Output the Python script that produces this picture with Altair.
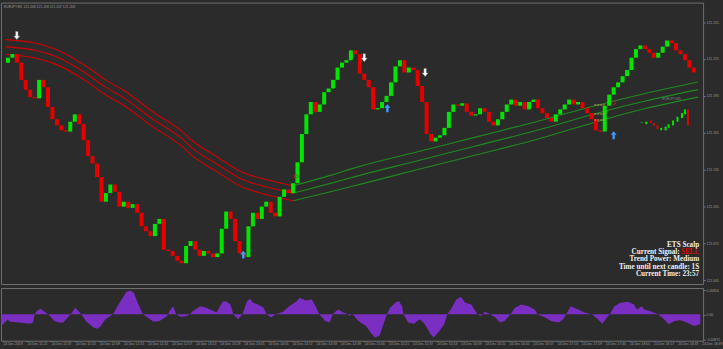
import altair as alt
import pandas as pd

# ---------------- data ----------------
# M1 chart, one candle drawn per 3 minutes, minutes after 11:05
candle_minutes = list(range(0, 465, 3))
first_open = 121.222
closes = [
    121.226, 121.229, 121.222, 121.208, 121.200, 121.194, 121.193, 121.208, 121.202, 121.186,
    121.176, 121.171, 121.167, 121.166, 121.174, 121.180, 121.172, 121.159, 121.146, 121.140,
    121.129, 121.109, 121.116, 121.123, 121.117, 121.105, 121.109, 121.104, 121.107, 121.100,
    121.089, 121.085, 121.081, 121.091, 121.095, 121.070, 121.069, 121.065, 121.061, 121.059,
    121.073, 121.077, 121.070, 121.065, 121.069, 121.067, 121.064, 121.067, 121.087, 121.101,
    121.095, 121.077, 121.067, 121.064, 121.089, 121.100, 121.095, 121.105, 121.109, 121.100,
    121.097, 121.113, 121.119, 121.116, 121.124, 121.141, 121.164, 121.180, 121.190, 121.182,
    121.188, 121.198, 121.201, 121.208, 121.218, 121.222, 121.224, 121.232, 121.229, 121.213,
    121.208, 121.202, 121.184, 121.185, 121.190, 121.195, 121.206, 121.219, 121.224, 121.214,
    121.218, 121.216, 121.203, 121.190, 121.164, 121.158, 121.161, 121.163, 121.169, 121.182,
    121.188, 121.187, 121.189, 121.182, 121.179, 121.180, 121.185, 121.182, 121.174, 121.171,
    121.176, 121.182, 121.188, 121.192, 121.187, 121.190, 121.184, 121.190, 121.192, 121.185,
    121.181, 121.177, 121.174, 121.180, 121.184, 121.188, 121.192, 121.188, 121.190, 121.185,
    121.181, 121.176, 121.167, 121.166, 121.187, 121.196, 121.202, 121.206, 121.211, 121.216,
    121.226, 121.233, 121.236, 121.233, 121.230, 121.226, 121.230, 121.235, 121.240, 121.238,
    121.232, 121.229, 121.224, 121.218, 121.214,
]

# trend bands (minutes, price)
red_minutes = [-1.3, 18.5, 31.7, 51.5, 64.7, 77.9, 97.7, 117.6, 124.2, 140.7, 157.2, 173.7, 192.2]
red_upper = [121.2407, 121.2379, 121.2331, 121.2201, 121.2088, 121.1995, 121.1819, 121.1658,
             121.1585, 121.1456, 121.1334, 121.1270, 121.1219]
red_middle = [121.2348, 121.2320, 121.2272, 121.2142, 121.2029, 121.1936, 121.1760, 121.1599,
              121.1526, 121.1397, 121.1275, 121.1211, 121.1160]
red_lower = [121.2286, 121.2258, 121.2210, 121.2080, 121.1967, 121.1874, 121.1698, 121.1537,
             121.1464, 121.1335, 121.1213, 121.1149, 121.1098]
green_minutes = [192.2, 216.6, 236.4, 276.0, 315.7, 355.3, 394.9, 427.9, 464.9]
green_upper = [121.1219, 121.1302, 121.1375, 121.1496, 121.1617, 121.1738, 121.1868, 121.1965, 121.2062]
green_middle = [121.1159, 121.1237, 121.1302, 121.1423, 121.1545, 121.1666, 121.1803, 121.1904, 121.2001]
green_lower = [121.1098, 121.1169, 121.1229, 121.1351, 121.1472, 121.1593, 121.1734, 121.1843, 121.1940]

# signal arrows
sell_minutes = [6, 240, 281]
sell_prices = [121.244, 121.226, 121.214]
buy_minutes = [158.5, 255.6, 408]
buy_prices = [121.066, 121.185, 121.163]

# small level dashes and target markers
dash_start = [395, 395, 395]
dash_end = [402, 402, 402]
dash_prices = [121.1876, 121.1803, 121.1754]
target_minutes = [194, 408]
target_prices = [121.1295, 121.1895]

# small M5 overlay candles
m5_minutes = [427, 430, 433, 435, 437.5, 440, 443, 445, 448, 451, 454, 456, 458]
m5_open = [121.173, 121.172, 121.175, 121.173, 121.171, 121.167, 121.167, 121.169, 121.171, 121.174, 121.177, 121.180, 121.184]
m5_close = [121.1735, 121.174, 121.173, 121.171, 121.168, 121.169, 121.170, 121.172, 121.175, 121.178, 121.181, 121.184, 121.171]

# oscillator (minutes, value)
osc_minutes = [-1, 1, 3, 5, 12, 18, 20, 21, 23, 25, 27, 30, 32, 34, 37, 40, 43, 45, 48, 52, 55, 60, 63, 65, 68,
               73, 78, 82, 85, 87, 89, 92, 93, 96, 100, 104, 109, 111, 113, 115, 118, 122, 124, 126, 131,
               135, 140, 142, 144, 146, 148, 151, 153, 156, 158, 159, 162, 164, 166, 170, 173, 175, 178,
               181, 186, 190, 195, 197, 201, 205, 207, 210, 214, 217, 219, 221, 223, 225, 229, 230, 232,
               236, 241, 245, 247, 250, 253, 255, 257, 261, 263, 265, 266, 269, 273, 275, 277, 280, 284,
               286, 289, 293, 295, 298, 301, 304, 307, 311, 313, 315, 317, 320, 323, 327, 330, 333, 337,
               340, 344, 349, 353, 355, 360, 364, 369, 372, 374, 377, 382, 386, 391, 395, 398, 401, 403,
               406, 410, 415, 419, 421, 424, 426, 430, 435, 439, 442, 446, 450, 454, 459, 463]
osc_values = [-0.0040, -0.0028, -0.0018, -0.0025, -0.0029, -0.0032, -0.0028, 0.0, 0.0014, 0.0019, 0.0011,
              0.0, -0.0011, -0.0023, -0.0028, -0.0028, -0.0011, 0.0, 0.0023, 0.0, -0.0023, -0.0045,
              -0.0049, -0.0040, -0.0017, 0.0, 0.0045, 0.0077, 0.0081, 0.0073, 0.0045, 0.0011, 0.0,
              -0.0011, -0.0025, -0.0023, -0.0006, 0.0014, 0.0028, 0.0, -0.0009, -0.0006, 0.0, 0.0011,
              0.0028, 0.0023, 0.0011, 0.0006, 0.0028, 0.0043, 0.0045, 0.0034, 0.0, -0.0017, -0.0006,
              0.0, 0.0045, 0.0053, 0.0040, 0.0032, 0.0023, 0.0, -0.0011, 0.0, 0.0009, 0.0028, 0.0045,
              0.0057, 0.0047, 0.0051, 0.0034, 0.0, -0.0023, -0.0028, 0.0, 0.0011, 0.0017, 0.0009, 0.0,
              -0.0006, 0.0002, -0.0023, -0.0040, -0.0068, -0.0079, -0.0073, -0.0028, 0.0, 0.0023,
              0.0042, 0.0045, 0.0028, 0.0, -0.0028, -0.0032, -0.0023, -0.0017, -0.0034, -0.0068,
              -0.0079, -0.0062, -0.0034, 0.0, 0.0023, 0.0051, 0.0059, 0.0040, 0.0034, 0.0017, 0.0,
              -0.0006, 0.0009, 0.0002, -0.0011, -0.0028, -0.0023, 0.0, 0.0023, 0.0034, 0.0028, 0.0017,
              0.0, -0.0011, -0.0023, -0.0028, -0.0017, 0.0, 0.0028, 0.0017, 0.0006, 0.0, -0.0017,
              -0.0032, -0.0011, 0.0, 0.0028, 0.0040, 0.0043, 0.0034, 0.0017, 0.0028, 0.0017, 0.0011,
              0.0, -0.0017, -0.0034, -0.0023, -0.0020, -0.0028, -0.0040, -0.0034]

price_ticks = [121.045, 121.060, 121.075, 121.090, 121.105, 121.120, 121.135, 121.150, 121.165,
               121.180, 121.195, 121.210, 121.225, 121.240, 121.255, 121.270]
osc_ticks = [0.00816, 0.0, -0.00872]
time_tick_minutes = list(range(0, 465, 16))
time_tick_labels = ["24 Dec 2019", "24 Dec 11:21", "24 Dec 11:37", "24 Dec 11:53", "24 Dec 12:09",
                    "24 Dec 12:25", "24 Dec 12:41", "24 Dec 12:57", "24 Dec 13:13", "24 Dec 13:29",
                    "24 Dec 13:45", "24 Dec 14:01", "24 Dec 14:17", "24 Dec 14:33", "24 Dec 14:49",
                    "24 Dec 15:05", "24 Dec 15:21", "24 Dec 15:37", "24 Dec 15:53", "24 Dec 16:09",
                    "24 Dec 16:25", "24 Dec 16:41", "24 Dec 16:57", "24 Dec 17:13", "24 Dec 17:29",
                    "24 Dec 17:45", "24 Dec 18:01", "24 Dec 18:17", "24 Dec 18:33", "24 Dec 18:49"]

# ---------------- frames ----------------
opens = [first_open] + closes[:-1]
candles = pd.DataFrame({"t": candle_minutes, "open": opens, "close": closes})
candles["kind"] = ["up" if c >= o else "down" for o, c in zip(opens, closes)]

bands = []
for name, mins, vals, col in [
    ("ru", red_minutes, red_upper, "band_red"), ("rm", red_minutes, red_middle, "band_red"),
    ("rl", red_minutes, red_lower, "band_red"), ("gu", green_minutes, green_upper, "band_green"),
    ("gm", green_minutes, green_middle, "band_green"), ("gl", green_minutes, green_lower, "band_green")]:
    for m, v in zip(mins, vals):
        bands.append({"t": m, "p": v, "line": name, "kind": col})
bands = pd.DataFrame(bands)

sells = pd.DataFrame({"t": sell_minutes, "p": sell_prices})
buys = pd.DataFrame({"t": buy_minutes, "p": buy_prices})
dashes = pd.DataFrame({"t": dash_start, "t2": dash_end, "p": dash_prices})
targets = pd.DataFrame({"t": target_minutes, "p": target_prices})
m5 = pd.DataFrame({"t": m5_minutes, "open": m5_open, "close": m5_close})
m5["kind"] = ["up" if c >= o else "down" for o, c in zip(m5_open, m5_close)]
osc = pd.DataFrame({"t": osc_minutes, "v": osc_values})

XDOM = [-1.32, 464.9]
xscale = alt.Scale(domain=XDOM, nice=False, zero=False)
yscale = alt.Scale(domain=[121.0421, 121.2708], nice=False, zero=False)
cscale = alt.Scale(domain=["up", "down", "band_red", "band_green"],
                   range=["#00e600", "#e60000", "#d40000", "#1f8a1f"])

BG = "#2b2b2b"
AXC = "#9c9c9c"
FS = 3.4

yaxis = alt.Axis(orient="right", values=price_ticks, format=".3f", labelFontSize=FS,
                 labelColor=AXC, tickColor="#777777", tickSize=2, labelPadding=1,
                 domain=False, grid=False, title=None, labelFont="Liberation Sans")

x_main = alt.X("t:Q", scale=xscale, axis=None)
color_enc = alt.Color("kind:N", scale=cscale, legend=None)

candle_layer = alt.Chart(candles).mark_bar(size=4).encode(
    x=x_main,
    y=alt.Y("open:Q", scale=yscale, axis=yaxis),
    y2="close:Q",
    color=color_enc,
)

band_layer = alt.Chart(bands).mark_line(strokeWidth=1.1, interpolate="monotone").encode(
    x=x_main, y=alt.Y("p:Q", scale=yscale),
    detail="line:N",
    color=color_enc,
)

down_arrow = "M-0.3,-1L0.3,-1L0.3,0.1L0.75,0.1L0,1L-0.75,0.1L-0.3,0.1Z"
up_arrow = "M-0.3,1L0.3,1L0.3,-0.1L0.75,-0.1L0,-1L-0.75,-0.1L-0.3,-0.1Z"

sell_layer = alt.Chart(sells).mark_point(shape=down_arrow, filled=True, size=64, color="#ffffff",
                                         stroke="#888888", strokeWidth=0.5, opacity=1).encode(
    x=x_main, y=alt.Y("p:Q", scale=yscale))
buy_layer = alt.Chart(buys).mark_point(shape=up_arrow, filled=True, size=64, color="#3d9bff",
                                       opacity=1).encode(
    x=x_main, y=alt.Y("p:Q", scale=yscale))

dash_layer = alt.Chart(dashes).mark_rule(color="#d8a060", strokeWidth=1, strokeDash=[2, 1]).encode(
    x=x_main, x2="t2:Q", y=alt.Y("p:Q", scale=yscale))
target_layer = alt.Chart(targets).mark_point(shape="circle", size=14, color="#b02a2a",
                                             strokeWidth=0.8, filled=False, opacity=1).encode(
    x=x_main, y=alt.Y("p:Q", scale=yscale))

m5_layer = alt.Chart(m5).mark_bar(size=2).encode(
    x=x_main, y=alt.Y("open:Q", scale=yscale), y2="close:Q",
    color=color_enc,
)

def label(txt, x, y, **kw):
    params = dict(fontSize=FS, color=AXC, align="left", baseline="middle", font="Liberation Sans")
    params.update(kw)
    return alt.Chart(pd.DataFrame({"s": [txt]})).mark_text(**params).encode(
        text="s:N", x=alt.value(x), y=alt.value(y))

header = label("EURJPY,M1  121.208 121.208 121.207 121.208", 3, 4)
m5_label = label("EURJPY,M5", 665, 97, color="#808080")

serif = dict(fontSize=7.2, color="#f0f0f0", font="Liberation Serif", align="right",
             baseline="middle", fontWeight="bold")
info = [
    label("ETS Scalp", 702, 244.2, **serif),
    label("Current Signal:", 682.5, 250.8, **serif),
    label("SELL", 683.5, 250.8, **{**serif, "align": "left", "color": "#e00000"}),
    label("Trend Power: Medium", 702, 258.2, **serif),
    label("Time until next candle: 1S", 702, 265.4, **serif),
    label("Current Time: 23:57", 702, 272.7, **serif),
]

main = alt.layer(band_layer, candle_layer, m5_layer, dash_layer, target_layer, sell_layer,
                 buy_layer, header, m5_label, *info).properties(width=706, height=283)

label_expr = "[" + ",".join("'" + s + "'" for s in time_tick_labels) + "][round(datum.value / 16)]"
osc_label_expr = "datum.value > 0.001 ? '0.00816' : (datum.value < -0.001 ? '-0.00872' : '0.00')"

osc_area = alt.Chart(osc).mark_area(color="#7a2fc2", opacity=1).encode(
    x=alt.X("t:Q", scale=xscale,
            axis=alt.Axis(values=time_tick_minutes, labelExpr=label_expr, labelFontSize=FS,
                          labelColor=AXC, labelAlign="left", tickColor="#777777", tickSize=1,
                          labelPadding=0, domain=False, grid=False, title=None,
                          labelFont="Liberation Sans", labelOverlap=False, labelBound=False,
                          labelFlush=False)),
    y=alt.Y("v:Q", scale=alt.Scale(domain=[-0.0090, 0.0090], nice=False, zero=False),
            axis=alt.Axis(orient="right", values=osc_ticks, labelExpr=osc_label_expr,
                          labelFontSize=FS, labelColor=AXC, tickColor="#777777", tickSize=2,
                          labelPadding=1, domain=False, grid=False, title=None,
                          labelFont="Liberation Sans")),
    y2=alt.datum(0),
)
osc_tag = label("0.00721", 7, 290)
lower = alt.layer(osc_area, osc_tag).properties(width=706, height=53)

chart = alt.vconcat(main, lower, spacing=2).configure(
    background=BG, padding=0
).configure_view(stroke="#707070", strokeWidth=1, fill=BG)

chart.save("out.html", embed_options={"renderer": "svg", "actions": False})
